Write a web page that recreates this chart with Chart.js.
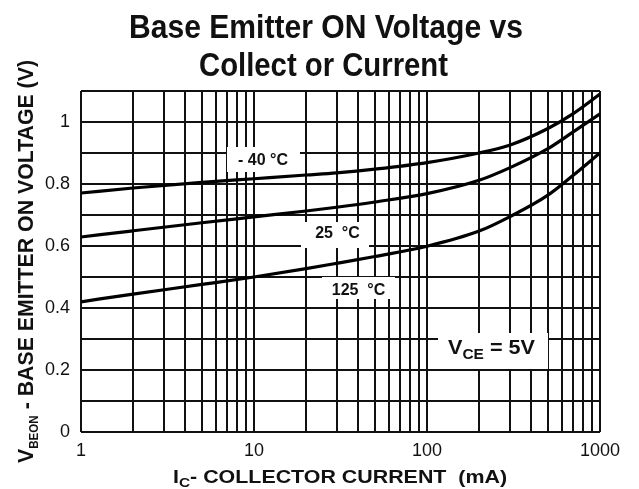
<!DOCTYPE html>
<html>
<head>
<meta charset="utf-8">
<title>Base Emitter ON Voltage vs Collector Current</title>
<script src="https://cdn.jsdelivr.net/npm/chart.js@4.4.1/dist/chart.umd.min.js"></script>
<style>
    body { margin: 0; background: #fff; }
    #wrap { width: 639px; height: 489px; }
</style>
</head>
<body>
<div id="wrap"><canvas id="vbeChart" width="639" height="489"></canvas></div>
<script>
// Collector current (mA) where the curves were read
const currentMa = [1, 2, 5, 10, 20, 30, 50, 100, 200, 300, 500, 700, 1000];

// V_BE(ON) in volts for each temperature
const vbeMinus40 = [0.771, 0.787, 0.805, 0.817, 0.829, 0.836, 0.848, 0.869, 0.900, 0.925, 0.979, 1.027, 1.090];
const vbe25 = [0.629, 0.649, 0.675, 0.694, 0.713, 0.725, 0.742, 0.769, 0.812, 0.852, 0.914, 0.968, 1.026];
const vbe125 = [0.420, 0.445, 0.476, 0.500, 0.527, 0.544, 0.566, 0.599, 0.648, 0.694, 0.764, 0.828, 0.900];

// Grid lines on the log axis and the ones that carry a label
const xGridValues = [1, 2, 3, 4, 5, 6, 7, 8, 9,
    10, 20, 30, 40, 50, 60, 70, 80, 90,
    100, 200, 300, 400, 500, 600, 700, 800, 900, 1000];
const xLabelValues = [1, 10, 100, 1000];
const yLabelValues = [0, 0.2, 0.4, 0.6, 0.8, 1];

const FONT = "'Liberation Sans', Arial, Helvetica, sans-serif";
const INK = '#111';

function toPoints(values) {
    return currentMa.map((x, i) => ({ x: x, y: values[i] }));
}

function curve(label, values) {
    return {
        label: label,
        data: toPoints(values),
        borderColor: '#000',
        borderWidth: 3.2,
        pointRadius: 0,
        fill: false,
        cubicInterpolationMode: 'monotone'
    };
}

// Draws a run of text pieces (for subscripts), squeezed to a given width
function drawPieces(ctx, pieces, width) {
    let total = 0;
    pieces.forEach(p => {
        ctx.font = p.font;
        p.w = ctx.measureText(p.text).width;
        total += p.w;
    });
    const sx = width / total;
    ctx.scale(sx, 1);
    let x = -total / 2;
    pieces.forEach(p => {
        ctx.font = p.font;
        ctx.fillText(p.text, x, p.dy || 0);
        x += p.w;
    });
}

// White boxes with the curve labels, under the curves
const labelBoxes = {
    id: 'labelBoxes',
    beforeDatasetsDraw(chart) {
        const ctx = chart.ctx;
        const boxes = [
            { x: 227, y: 147, w: 73, h: 25, text: '- 40 °C', cx: 263, base: 165 },
            { x: 301, y: 222, w: 68, h: 26, text: '25  °C', cx: 337.5, base: 238 },
            { x: 322, y: 277, w: 73, h: 22, text: '125  °C', cx: 358.5, base: 295 }
        ];
        ctx.save();
        boxes.forEach(b => {
            ctx.fillStyle = '#fff';
            ctx.fillRect(b.x, b.y, b.w, b.h);
            ctx.fillStyle = INK;
            ctx.font = 'bold 16px ' + FONT;
            ctx.textAlign = 'center';
            ctx.textBaseline = 'alphabetic';
            ctx.fillText(b.text, b.cx, b.base);
        });

        // V_CE = 5V note
        ctx.fillStyle = '#fff';
        ctx.fillRect(438, 333, 110, 36);
        ctx.fillStyle = INK;
        ctx.textAlign = 'left';
        ctx.translate(491.5, 354);
        drawPieces(ctx, [
            { text: 'V', font: 'bold 21px ' + FONT },
            { text: 'CE', font: 'bold 15px ' + FONT, dy: 5 },
            { text: ' = 5V', font: 'bold 21px ' + FONT }
        ], 87);
        ctx.restore();
    }
};

// Title and axis titles, drawn by hand so they can carry subscripts
const titles = {
    id: 'titles',
    afterDraw(chart) {
        const ctx = chart.ctx;
        ctx.save();
        ctx.fillStyle = INK;
        ctx.textBaseline = 'alphabetic';
        ctx.textAlign = 'left';

        ctx.save();
        ctx.translate(326, 38);
        drawPieces(ctx, [{ text: 'Base Emitter ON Voltage vs', font: 'bold 33px ' + FONT }], 394);
        ctx.restore();

        ctx.save();
        ctx.translate(323.5, 76);
        drawPieces(ctx, [{ text: 'Collect or Current', font: 'bold 33px ' + FONT }], 249);
        ctx.restore();

        ctx.save();
        ctx.translate(340, 483);
        drawPieces(ctx, [
            { text: 'I', font: 'bold 18px ' + FONT },
            { text: 'C', font: 'bold 13px ' + FONT, dy: 4 },
            { text: '- COLLECTOR CURRENT  (mA)', font: 'bold 18px ' + FONT }
        ], 334);
        ctx.restore();

        ctx.save();
        ctx.translate(33, 261.5);
        ctx.rotate(-Math.PI / 2);
        drawPieces(ctx, [
            { text: 'V', font: 'bold 22px ' + FONT },
            { text: 'BEON', font: 'bold 12px ' + FONT, dy: 5 },
            { text: ' - BASE EMITTER ON VOLTAGE (V)', font: 'bold 22px ' + FONT }
        ], 403);
        ctx.restore();

        ctx.restore();
    }
};

document.addEventListener('DOMContentLoaded', function() {
    const ctx = document.getElementById('vbeChart');
    new Chart(ctx, {
        type: 'line',
        data: {
            datasets: [
                curve('-40 °C', vbeMinus40),
                curve('25 °C', vbe25),
                curve('125 °C', vbe125)
            ]
        },
        options: {
            responsive: false,
            animation: false,
            layout: { padding: { top: 91, right: 39, left: 0, bottom: 0 } },
            plugins: {
                legend: { display: false },
                title: { display: false },
                tooltip: { enabled: false }
            },
            scales: {
                x: {
                    type: 'logarithmic',
                    min: 1,
                    max: 1000,
                    afterBuildTicks: scale => {
                        scale.ticks = xGridValues.map(v => ({ value: v }));
                    },
                    afterFit: scale => { scale.height = 57; },
                    border: { display: false },
                    grid: { color: '#111', lineWidth: 2, drawTicks: false },
                    ticks: {
                        autoSkip: false,
                        maxRotation: 0,
                        padding: 8,
                        color: INK,
                        font: { family: FONT, size: 18 },
                        callback: value => xLabelValues.includes(value) ? String(value) : ''
                    }
                },
                y: {
                    min: 0,
                    max: 1.1,
                    afterFit: scale => { scale.width = 81; },
                    border: { display: false },
                    grid: { color: '#111', lineWidth: 2, drawTicks: false },
                    ticks: {
                        stepSize: 0.1,
                        autoSkip: false,
                        padding: 11,
                        color: INK,
                        font: { family: FONT, size: 18 },
                        callback: value => {
                            const v = Math.round(value * 10) / 10;
                            return yLabelValues.includes(v) ? String(v) : '';
                        }
                    }
                }
            }
        },
        plugins: [labelBoxes, titles]
    });
});
</script>
</body>
</html>
